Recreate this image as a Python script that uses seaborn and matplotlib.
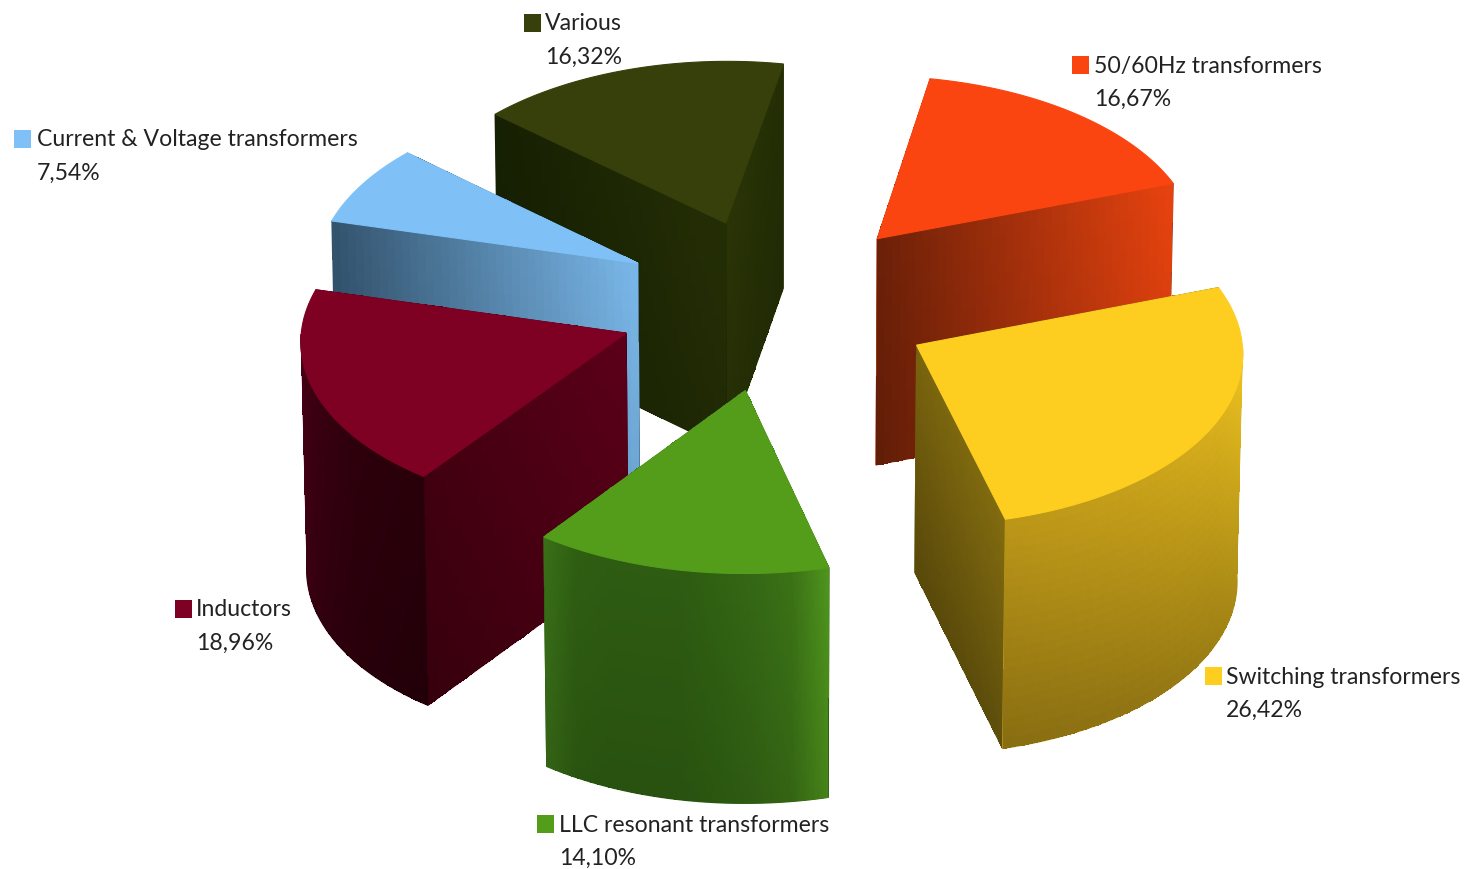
import numpy as np
import pandas as pd
import matplotlib
matplotlib.use("Agg")
import matplotlib.pyplot as plt
import matplotlib.colors as mc
import seaborn as sns

# shares, clockwise from the start angle
labels = ["50/60Hz transformers", "Switching transformers", "LLC resonant transformers",
          "Inductors", "Current & Voltage transformers", "Various"]
shares = [16.67, 26.42, 14.10, 18.96, 7.54, 16.32]

top_colors = ["#FB4510", "#FDCE20", "#549D1B", "#7E0023", "#7FC1F7", "#37400A"]

# gradients on the side faces: (apex, rim) for the flat ones, stops for the curved one
start_edge = [("#6b2008", "#e8430f"), ("#6e5a0c", "#8f7510"), ("#3e7618", "#3e7618"),
              ("#5c0019", "#40000f"), ("#7ab8ea", "#33536d"), ("#242e05", "#162002")]
end_edge = [("#6b2008", "#e8430f"), ("#7a640e", "#826c10"), ("#3e7618", "#3e7618"),
            ("#5f001b", "#47000f"), ("#7ab8ea", "#33536d"), ("#2a3406", "#232e05")]
outer_stops = [["#e8430f", "#e8430f"],
               ["#f4c81f", "#d9b01c", "#c8a11a", "#bc9718"],
               ["#4f951d", "#3b7216", "#356815", "#306212", "#2e5c12", "#2e5c12", "#2e5c12", "#2f5f12", "#3a7018"],
               ["#28000a", "#2e000c", "#3c0012", "#4c0017"],
               ["#33536d", "#33536d"],
               ["#182203", "#182203"]]
bottom_fade = [0.9, 0.72, 0.88, 0.85, 0.9, 0.9]

# label layout: left edge of the key square and of the text, y of the first text line
key_x = [1073, 1206, 538, 176, 15, 525]
text_x = [1094, 1226, 559, 196, 37, 545]
label_y = [66, 677, 825, 610, 140, 24]
draw_order = [5, 0, 4, 3, 1, 2]

CX, CY = 776, 304
TILT = 0.55
RADIUS_X = 323
RADIUS_Y = 312
EXPLODE = 158
HEIGHT = 227
PERSP = 9000
START = 10.5


def project(X, Y, lower=0.0):
    # lower: 0 on the top face, 1 on the bottom one
    s = 1 / (1 + Y / PERSP)
    shrink = 1 - 0.012 * lower
    return CX + X * s * shrink, CY - TILT * Y * s ** 0.9 * shrink + HEIGHT * s ** 0.5 * lower


def draw_face(ax, Xp, Yp, stops, fade):
    v = np.linspace(0, 1, 24)
    xs = np.empty((len(v), len(Xp)))
    ys = np.empty((len(v), len(Xp)))
    for j, low in enumerate(v):
        xs[j], ys[j] = project(Xp, Yp, low)
    n = xs.shape[1] - 1
    stop_rgb = np.array([mc.to_rgb(c) for c in stops])
    u = (np.arange(n) + 0.5) / n
    pos = np.linspace(0, 1, len(stops))
    col = np.stack([np.interp(u, pos, stop_rgb[:, c]) for c in range(3)], axis=1)
    vm = (v[:-1] + v[1:]) / 2
    fac = 1 - (1 - fade) * vm
    rgb = col[None, :, :] * fac[:, None, None]
    outline_x = np.r_[xs[0], xs[-1][::-1]]
    outline_y = np.r_[ys[0], ys[-1][::-1]]
    ax.fill(outline_x, outline_y, color=rgb.mean(axis=(0, 1)), lw=0.8, zorder=2)
    ax.pcolormesh(xs, ys, rgb, shading="flat", antialiased=False, linewidth=0, zorder=2)


sns.set_theme(style="white")
plt.rcParams["font.family"] = ["Lato", "DejaVu Sans"]

fig = plt.figure(figsize=(14.66, 8.69), dpi=100)
ax = fig.add_axes([0, 0, 1, 1])
ax.set_xlim(0, 1466)
ax.set_ylim(869, 0)
ax.axis("off")

cum = np.r_[0, np.cumsum(shares)] / sum(shares) * 360 + START

for i in draw_order:
    a0, a1 = np.radians(cum[i]), np.radians(cum[i + 1])
    mid = (a0 + a1) / 2
    ox, oy = EXPLODE * np.sin(mid), EXPLODE * np.cos(mid)
    arc = np.linspace(a0, a1, 120)
    rim_x = ox + RADIUS_X * np.sin(arc)
    rim_y = oy + RADIUS_Y * np.cos(arc)

    faces = []
    ra = np.linspace(0, 1, 40)
    for a, st in ((a0, start_edge[i]), (a1, end_edge[i])):
        fx = ox + ra * RADIUS_X * np.sin(a)
        fy = oy + ra * RADIUS_Y * np.cos(a)
        faces.append((fy.mean(), fx, fy, st))
    # only the part of the rim that faces the viewer
    front = np.cos(arc) < 0
    if front.sum() > 1:
        faces.append((rim_y[front].mean(), rim_x[front], rim_y[front], outer_stops[i]))
    faces.sort(key=lambda f: -f[0])
    for _, fx, fy, st in faces:
        draw_face(ax, fx, fy, st, bottom_fade[i])

    tx, ty = project(np.r_[ox, rim_x], np.r_[oy, rim_y])
    ax.fill(tx, ty, color=top_colors[i], lw=0.8, zorder=2)

# legend keys and the two text lines per slice
keys = pd.DataFrame({"x": np.array(key_x) + 7.5, "y": np.array(label_y) - 1, "name": labels})
sns.scatterplot(data=keys, x="x", y="y", hue="name", hue_order=labels, palette=top_colors,
                marker="s", s=150, linewidth=0, legend=False, ax=ax, zorder=3)
ax.set_xlim(0, 1466)
ax.set_ylim(869, 0)

for i, name in enumerate(labels):
    pct = f"{shares[i]:.2f}%".replace(".", ",")
    ax.text(text_x[i], label_y[i], name, fontsize=16.6, color="#222222", va="center", ha="left", zorder=4)
    ax.text(text_x[i], label_y[i] + 33, pct, fontsize=16.6, color="#222222", va="center", ha="left", zorder=4)

fig.savefig("out.png", dpi=100, facecolor="white")
